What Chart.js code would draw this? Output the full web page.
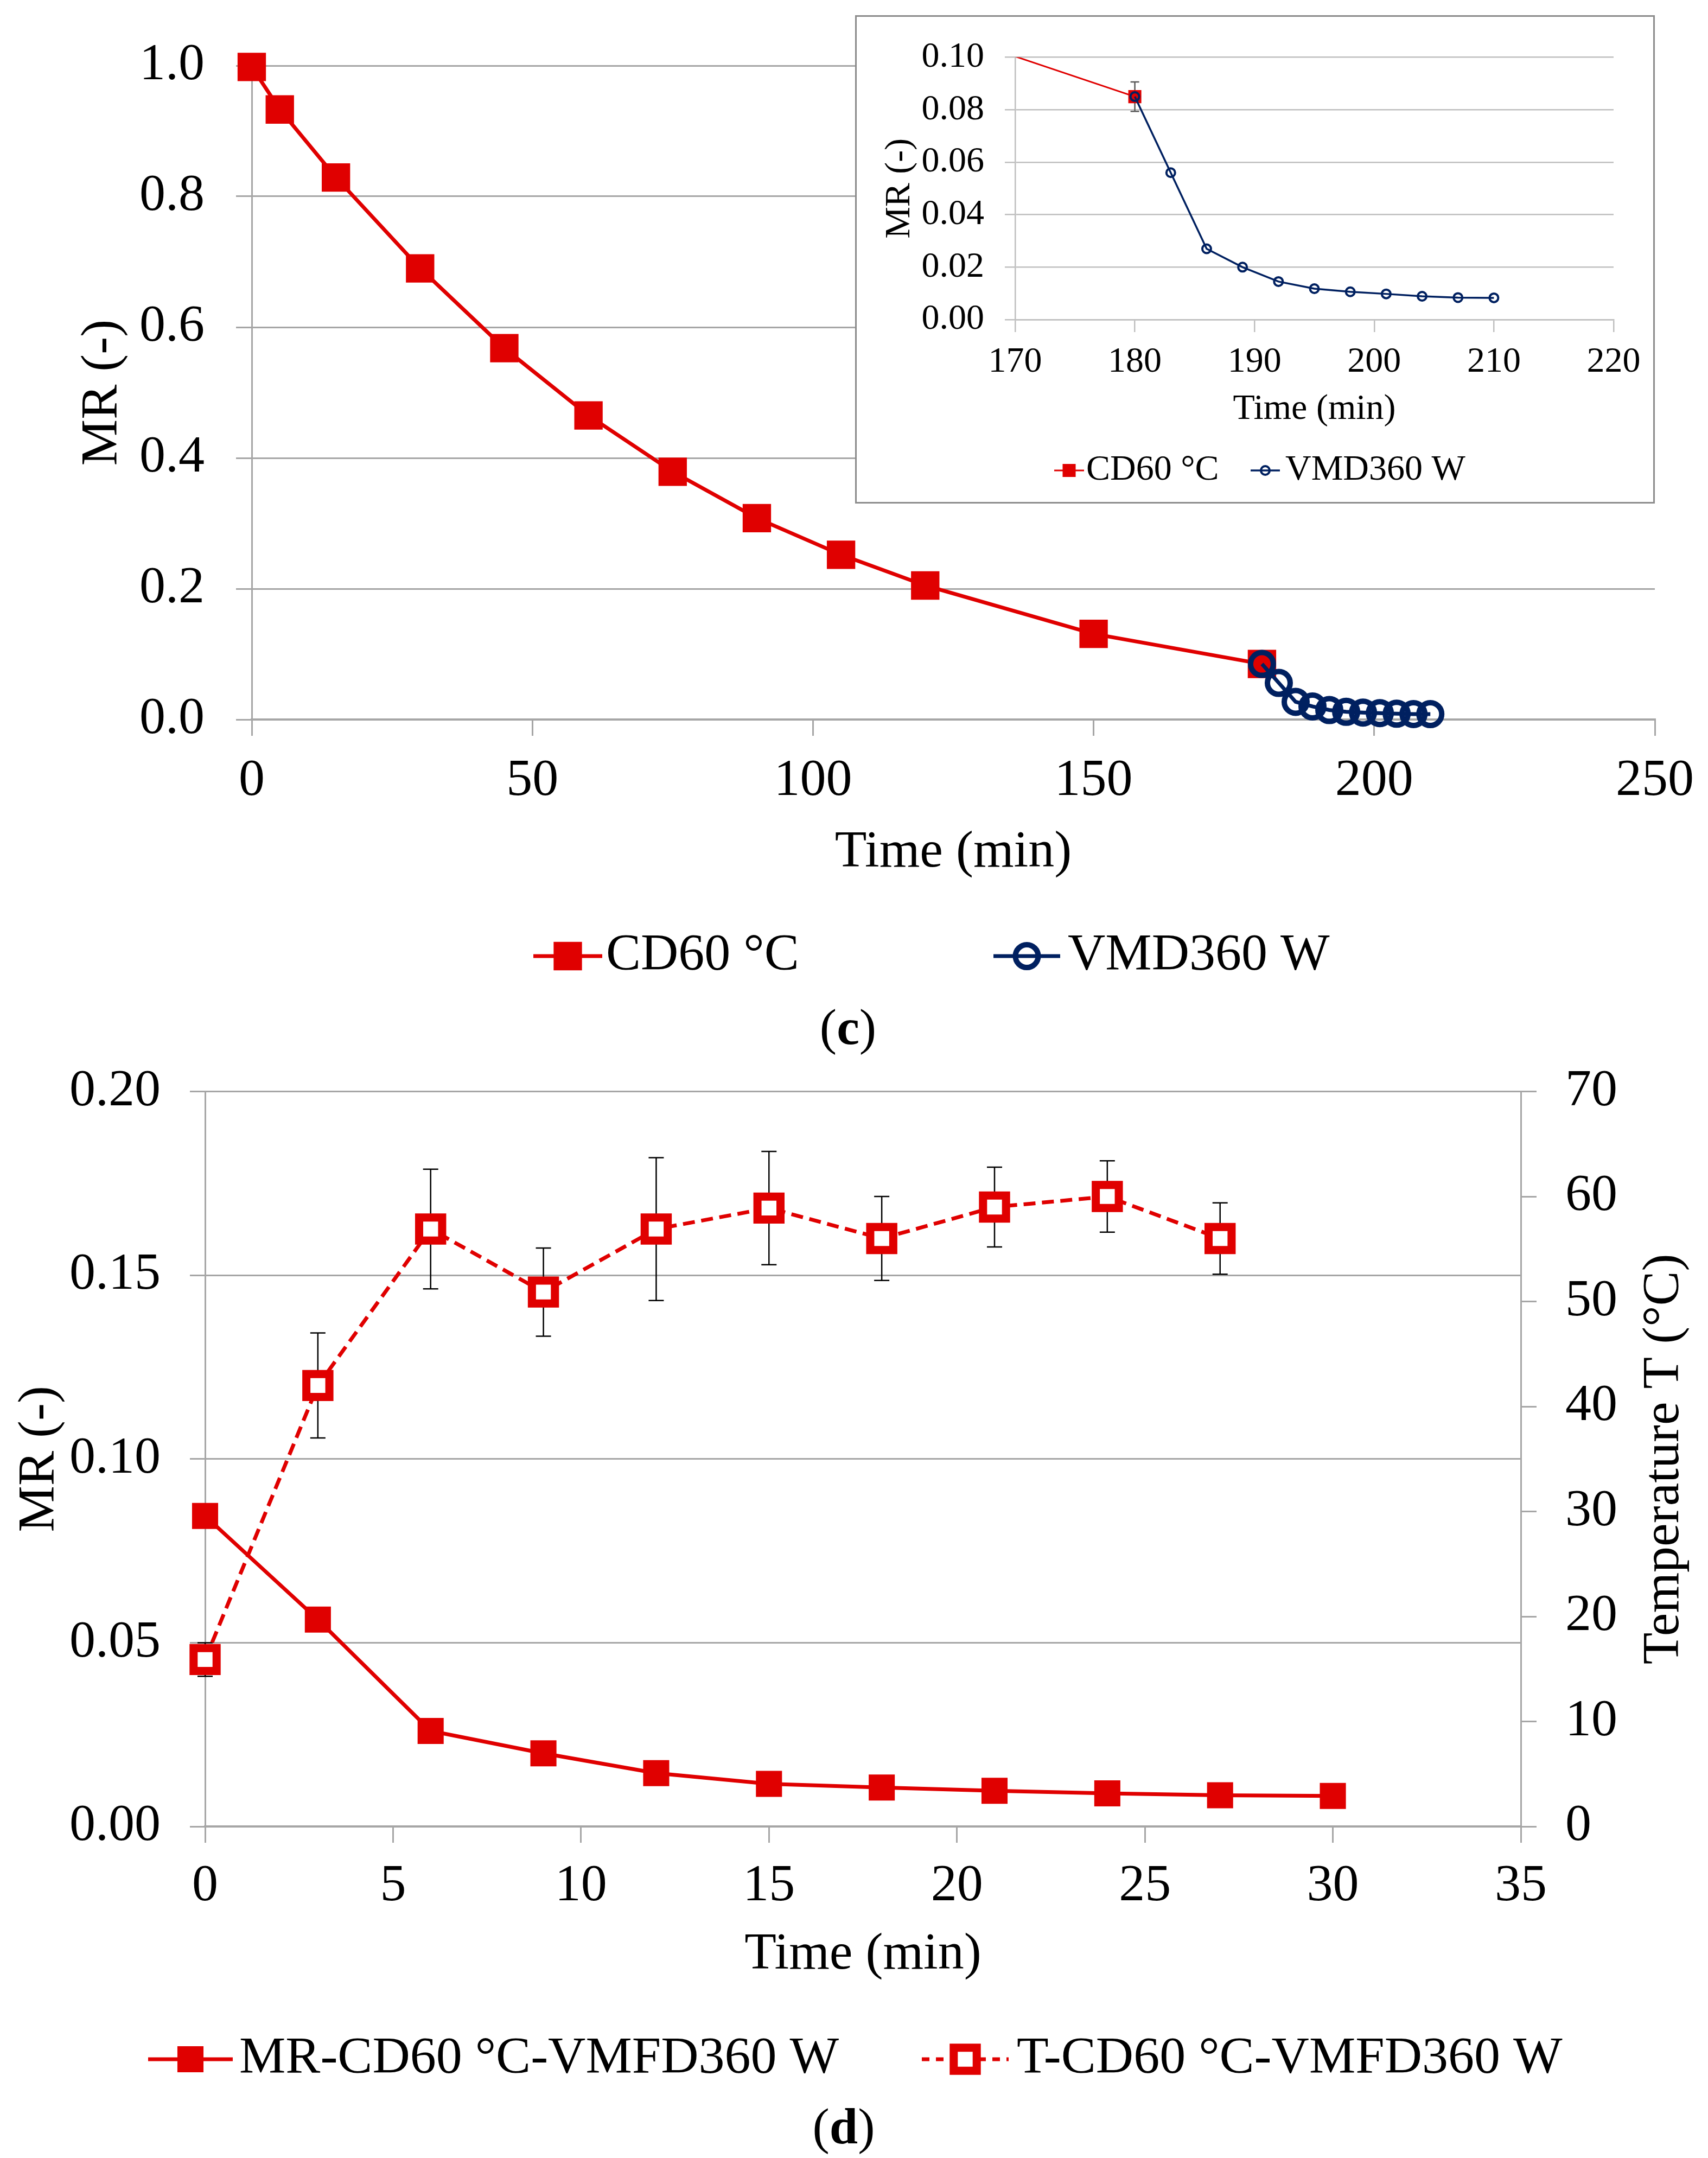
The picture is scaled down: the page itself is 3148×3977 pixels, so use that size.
<!DOCTYPE html>
<html>
<head>
<meta charset="utf-8">
<title>MR curves (c) and (d)</title>
<script src="https://cdn.jsdelivr.net/npm/chart.js@4.4.1/dist/chart.umd.min.js"></script>
<style>
html, body { margin: 0; padding: 0; background: #fff; }
body { width: 3148px; height: 3977px; position: relative; overflow: hidden; font-family: 'Liberation Serif', 'Times New Roman', serif; }
canvas { position: absolute; }
#mainChart { left: 0; top: 0; }
#insetChart { left: 1576px; top: 28px; }
#dryChart { left: 0; top: 1900px; }
.panel { position: absolute; font-size: 94px; line-height: 1; transform: translate(-50%, -50%); color: #000; }
</style>
</head>
<body>
<canvas id="mainChart" width="3148" height="1830"></canvas>
<canvas id="insetChart" width="1474" height="900"></canvas>
<canvas id="dryChart" width="3148" height="2077"></canvas>
<div class="panel" style="left:1563px;top:1892px">(<b>c</b>)</div>
<div class="panel" style="left:1555px;top:3918px">(<b>d</b>)</div>
<script>
// --- panel (c): convective drying at 60 °C, then VMD finishing at 360 W
const cdTime = [0, 5, 15, 30, 45, 60, 75, 90, 105, 120, 150, 180];
const cdMR = [0.998, 0.933, 0.829, 0.690, 0.568, 0.465, 0.379, 0.308, 0.252, 0.205, 0.131, 0.085];
const vmdTime = [180, 183, 186, 189, 192, 195, 198, 201, 204, 207, 210];
const vmdMR = [0.085, 0.056, 0.027, 0.020, 0.0145, 0.0118, 0.0106, 0.0098, 0.0089, 0.0084, 0.0083];
// error of the last CD point (only one visible in the inset)
const cdErr = [0, 0, 0, 0, 0, 0, 0, 0, 0, 0, 0, 0.0056];

const mainXTicks = [0, 50, 100, 150, 200, 250];
const mainYTicks = [0, 0.2, 0.4, 0.6, 0.8, 1.0];
const insetXTicks = [170, 180, 190, 200, 210, 220];
const insetYTicks = [0, 0.02, 0.04, 0.06, 0.08, 0.10];

// --- panel (d): MR and product temperature during VMFD after CD60
const finTime = [0, 3, 6, 9, 12, 15, 18, 21, 24, 27, 30];
const finMR = [0.0845, 0.0563, 0.026, 0.0199, 0.0145, 0.0116, 0.0106, 0.0097, 0.0090, 0.0085, 0.0083];
const tempTime = [0, 3, 6, 9, 12, 15, 18, 21, 24, 27];
const tempVal = [15.9, 42.0, 56.9, 50.9, 56.9, 58.9, 56.0, 59.0, 60.0, 56.0];
const tempErr = [1.6, 5.0, 5.7, 4.2, 6.8, 5.4, 4.0, 3.8, 3.4, 3.4];

const dryXTicks = [0, 5, 10, 15, 20, 25, 30, 35];
const dryYTicks = [0, 0.05, 0.10, 0.15, 0.20];
const tempTicks = [0, 10, 20, 30, 40, 50, 60, 70];

const RED = '#e00000';
const NAVY = '#002060';
const GRID = '#a6a6a6';
const FONT = "'Liberation Serif', 'Times New Roman', serif";

Chart.defaults.font.family = FONT;
Chart.defaults.color = '#000';

function pts(xs, ys) { return xs.map((x, i) => ({x: x, y: ys[i]})); }
function fixedTicks(arr) { return s => { s.ticks = arr.map(v => ({value: v})); }; }

// vertical error bars, drawn behind the markers
const errorBars = {
    id: 'errorBars',
    beforeDatasetsDraw(chart) {
        const ctx = chart.ctx;
        chart.data.datasets.forEach((ds, i) => {
            if (!ds.errors) return;
            const meta = chart.getDatasetMeta(i);
            const xs = chart.scales[meta.xAxisID], ys = chart.scales[meta.yAxisID];
            ctx.save();
            ctx.strokeStyle = ds.errorColor;
            ctx.lineWidth = ds.errorWidth;
            ds.data.forEach((p, j) => {
                const e = ds.errors[j];
                if (!e) return;
                const x = xs.getPixelForValue(p.x);
                const y0 = ys.getPixelForValue(p.y - e), y1 = ys.getPixelForValue(p.y + e);
                const c = ds.errorCap;
                ctx.beginPath();
                ctx.moveTo(x, y0); ctx.lineTo(x, y1);
                ctx.moveTo(x - c, y0); ctx.lineTo(x + c, y0);
                ctx.moveTo(x - c, y1); ctx.lineTo(x + c, y1);
                ctx.stroke();
            });
            ctx.restore();
        });
    }
};

function drawMarker(ctx, ds, x, y) {
    ctx.save();
    ctx.fillStyle = ds.pointBackgroundColor;
    ctx.strokeStyle = ds.pointBorderColor;
    ctx.lineWidth = ds.pointBorderWidth;
    ctx.beginPath();
    if (ds.pointStyle === 'circle') {
        ctx.arc(x, y, ds.pointRadius, 0, Math.PI * 2);
    } else {
        const h = ds.pointRadius * Math.SQRT1_2;
        ctx.rect(x - h, y - h, 2 * h, 2 * h);
    }
    ctx.fill();
    if (ds.pointBorderWidth > 0) ctx.stroke();
    ctx.restore();
}

// Excel-like legend: short line with the marker in the middle, then the label
const lineLegend = {
    id: 'lineLegend',
    afterDraw(chart, args, opts) {
        if (!opts.items) return;
        const ctx = chart.ctx;
        opts.items.forEach(it => {
            const ds = chart.data.datasets[it.dataset];
            ctx.save();
            ctx.strokeStyle = ds.borderColor;
            ctx.lineWidth = it.lineWidth;
            ctx.setLineDash(it.dash || []);
            ctx.beginPath();
            ctx.moveTo(it.x0, opts.y);
            ctx.lineTo(it.x1, opts.y);
            ctx.stroke();
            ctx.restore();
            drawMarker(ctx, ds, (it.x0 + it.x1) / 2, opts.y);
            ctx.save();
            ctx.font = opts.size + 'px ' + FONT;
            ctx.fillStyle = '#000';
            ctx.textAlign = 'left';
            ctx.textBaseline = 'middle';
            ctx.fillText(it.text, it.tx, opts.y);
            ctx.restore();
        });
    }
};

// white box with a grey frame for the inset
const frame = {
    id: 'frame',
    beforeDraw(chart, args, opts) {
        if (!opts.color) return;
        const ctx = chart.ctx;
        ctx.save();
        ctx.fillStyle = '#fff';
        ctx.fillRect(0, 0, chart.width, chart.height);
        ctx.strokeStyle = opts.color;
        ctx.lineWidth = opts.width;
        ctx.strokeRect(opts.width / 2, opts.width / 2, chart.width - opts.width, chart.height - opts.width);
        ctx.restore();
    }
};

// right axis title reads bottom to top, like the left one
const rightTitle = {
    id: 'rightTitle',
    afterDraw(chart, args, opts) {
        if (!opts.text) return;
        const ctx = chart.ctx, a = chart.chartArea;
        ctx.save();
        ctx.translate(opts.x, (a.top + a.bottom) / 2);
        ctx.rotate(-Math.PI / 2);
        ctx.font = opts.size + 'px ' + FONT;
        ctx.fillStyle = '#000';
        ctx.textAlign = 'center';
        ctx.textBaseline = 'middle';
        ctx.fillText(opts.text, 0, 0);
        ctx.restore();
    }
};

Chart.register(errorBars, lineLegend, frame, rightTitle);

const base = {
    responsive: false,
    animation: false,
    devicePixelRatio: 1,
    events: [],
    elements: { line: { tension: 0 } }
};

// ---------- main chart (c)
new Chart('mainChart', {
    type: 'line',
    data: {
        datasets: [{
            label: 'CD60 °C',
            data: pts(cdTime, cdMR),
            borderColor: RED, borderWidth: 7,
            pointStyle: 'rect', pointRadius: 37, pointBorderWidth: 0,
            pointBackgroundColor: RED, pointBorderColor: RED,
            order: 2, clip: false
        }, {
            label: 'VMD360 W',
            data: pts(vmdTime, vmdMR),
            borderColor: NAVY, borderWidth: 7,
            pointStyle: 'circle', pointRadius: 21, pointBorderWidth: 10,
            pointBackgroundColor: 'rgba(0,0,0,0)', pointBorderColor: NAVY,
            order: 1, clip: false
        }]
    },
    options: Object.assign({}, base, {
        layout: { padding: { left: 0, top: 121, right: 87, bottom: 201 } },
        plugins: {
            legend: { display: false }, tooltip: { enabled: false },
            lineLegend: {
                y: 1762, size: 96,
                items: [
                    { dataset: 0, x0: 983, x1: 1110, tx: 1117, lineWidth: 7, text: 'CD60 °C' },
                    { dataset: 1, x0: 1831, x1: 1954, tx: 1968, lineWidth: 7, text: 'VMD360 W' }
                ]
            }
        },
        scales: {
            x: {
                type: 'linear', min: 0, max: 250,
                afterBuildTicks: fixedTicks(mainXTicks),
                afterFit: s => { s.height = 303; },
                grid: { drawOnChartArea: false, drawTicks: true, tickLength: 30, color: GRID, lineWidth: 3 },
                border: { display: true, color: GRID, width: 4 },
                ticks: { font: { size: 96 }, padding: 26, maxRotation: 0, autoSkip: false, callback: v => String(v) },
                title: { display: true, text: 'Time (min)', font: { size: 96 }, padding: { top: 0, bottom: 0 } }
            },
            y: {
                type: 'linear', min: 0, max: 1,
                afterBuildTicks: fixedTicks(mainYTicks),
                afterFit: s => { s.width = 464; },
                grid: { drawTicks: true, tickLength: 29, color: GRID, lineWidth: 3 },
                border: { display: true, color: GRID, width: 3 },
                ticks: { font: { size: 96 }, padding: 58, autoSkip: false, callback: v => v.toFixed(1) },
                title: { display: true, text: 'MR (-)', font: { size: 96 }, padding: { top: 132, bottom: 0 } }
            }
        }
    })
});

// ---------- inset (c), zoom on the VMD stage
new Chart('insetChart', {
    type: 'line',
    data: {
        datasets: [{
            label: 'CD60 °C',
            data: pts(cdTime, cdMR),
            borderColor: RED, borderWidth: 3,
            pointStyle: 'rect', pointRadius: 17, pointBorderWidth: 0,
            pointBackgroundColor: RED, pointBorderColor: RED,
            errors: cdErr, errorColor: '#595959', errorWidth: 2.5, errorCap: 8,
            order: 2, clip: 0
        }, {
            label: 'VMD360 W',
            data: pts(vmdTime, vmdMR),
            borderColor: NAVY, borderWidth: 3.5,
            pointStyle: 'circle', pointRadius: 8, pointBorderWidth: 4,
            pointBackgroundColor: 'rgba(0,0,0,0)', pointBorderColor: NAVY,
            order: 1, clip: false
        }]
    },
    options: Object.assign({}, base, {
        layout: { padding: { left: 0, top: 52, right: 76, bottom: 134 } },
        plugins: {
            legend: { display: false }, tooltip: { enabled: false },
            frame: { color: '#8c8c8c', width: 3 },
            lineLegend: {
                y: 839, size: 66,
                items: [
                    { dataset: 0, x0: 367, x1: 422, tx: 426, lineWidth: 3, text: 'CD60 °C' },
                    { dataset: 1, x0: 729, x1: 783, tx: 793, lineWidth: 3.5, text: 'VMD360 W' }
                ]
            }
        },
        scales: {
            x: {
                type: 'linear', min: 170, max: 220,
                afterBuildTicks: fixedTicks(insetXTicks),
                afterFit: s => { s.height = 205; },
                grid: { drawOnChartArea: false, drawTicks: true, tickLength: 23, color: '#bfbfbf', lineWidth: 2.5 },
                border: { display: true, color: '#bfbfbf', width: 2.5 },
                ticks: { font: { size: 66 }, padding: 16, maxRotation: 0, autoSkip: false, callback: v => String(v) },
                title: { display: true, text: 'Time (min)', font: { size: 66 }, padding: { top: 0, bottom: 0 } }
            },
            y: {
                type: 'linear', min: 0, max: 0.1,
                afterBuildTicks: fixedTicks(insetYTicks),
                afterFit: s => { s.width = 295; },
                grid: { drawTicks: true, tickLength: 19, color: '#bfbfbf', lineWidth: 2.5 },
                border: { display: true, color: '#bfbfbf', width: 2.5 },
                ticks: { font: { size: 66 }, padding: 38, autoSkip: false, callback: v => v.toFixed(2) },
                title: { display: true, text: 'MR (-)', font: { size: 66 }, padding: { top: 43, bottom: 0 } }
            }
        }
    })
});

// ---------- chart (d)
new Chart('dryChart', {
    type: 'line',
    data: {
        datasets: [{
            label: 'T-CD60 °C-VMFD360 W',
            data: pts(tempTime, tempVal),
            yAxisID: 'y2',
            borderColor: RED, borderWidth: 7, borderDash: [22, 12],
            pointStyle: 'rect', pointRadius: 30, pointBorderWidth: 15,
            pointBackgroundColor: '#fff', pointBorderColor: RED,
            errors: tempErr, errorColor: '#000', errorWidth: 2.5, errorCap: 14,
            order: 1, clip: false
        }, {
            label: 'MR-CD60 °C-VMFD360 W',
            data: pts(finTime, finMR),
            yAxisID: 'y',
            borderColor: RED, borderWidth: 7,
            pointStyle: 'rect', pointRadius: 34, pointBorderWidth: 0,
            pointBackgroundColor: RED, pointBorderColor: RED,
            order: 2, clip: false
        }]
    },
    options: Object.assign({}, base, {
        layout: { padding: { left: 0, top: 88, right: 0, bottom: 317 } },
        plugins: {
            legend: { display: false }, tooltip: { enabled: false },
            rightTitle: { text: 'Temperature T (°C)', x: 3068, size: 96 },
            lineLegend: {
                y: 1895, size: 96,
                items: [
                    { dataset: 1, x0: 273, x1: 429, tx: 441, lineWidth: 7, text: 'MR-CD60 °C-VMFD360 W' },
                    { dataset: 0, x0: 1699, x1: 1859, tx: 1874, lineWidth: 7, dash: [14, 12], text: 'T-CD60 °C-VMFD360 W' }
                ]
            }
        },
        scales: {
            x: {
                type: 'linear', min: 0, max: 35,
                afterBuildTicks: fixedTicks(dryXTicks),
                afterFit: s => { s.height = 294; },
                grid: { drawOnChartArea: false, drawTicks: true, tickLength: 30, color: GRID, lineWidth: 3 },
                border: { display: true, color: GRID, width: 4 },
                ticks: { font: { size: 96 }, padding: 23, maxRotation: 0, autoSkip: false, callback: v => String(v) },
                title: { display: true, text: 'Time (min)', font: { size: 96 }, padding: { top: 0, bottom: 0 } }
            },
            y: {
                type: 'linear', position: 'left', min: 0, max: 0.2,
                afterBuildTicks: fixedTicks(dryYTicks),
                afterFit: s => { s.width = 378; },
                grid: { drawTicks: true, tickLength: 28, color: GRID, lineWidth: 3 },
                border: { display: true, color: GRID, width: 3 },
                ticks: { font: { size: 96 }, padding: 54, autoSkip: false, callback: v => v.toFixed(2) },
                title: { display: true, text: 'MR (-)', font: { size: 96 }, padding: { top: 16, bottom: 0 } }
            },
            y2: {
                type: 'linear', position: 'right', min: 0, max: 70,
                afterBuildTicks: fixedTicks(tempTicks),
                afterFit: s => { s.width = 345; },
                grid: { drawOnChartArea: false, drawTicks: true, tickLength: 29, color: GRID, lineWidth: 3 },
                border: { display: true, color: GRID, width: 3 },
                ticks: { font: { size: 96 }, padding: 53, autoSkip: false, callback: v => String(v) },
                title: { display: false }
            }
        }
    })
});
</script>
</body>
</html>
